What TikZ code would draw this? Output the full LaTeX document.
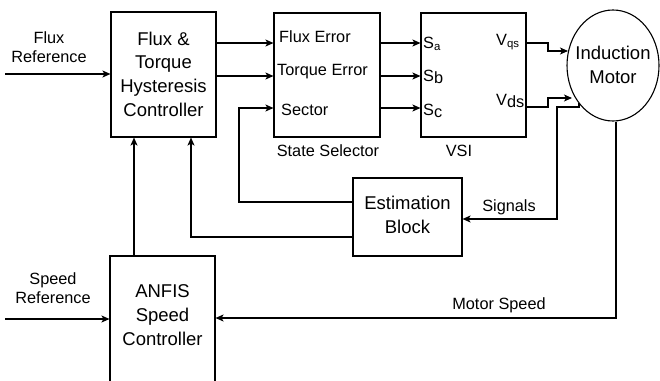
\documentclass[tikz,border=0pt]{standalone}
\usepackage{fontspec}
\setmainfont{Liberation Sans}
\usetikzlibrary{arrows.meta,shapes.geometric}
\tikzset{
  blk/.style={draw, line width=1.1pt, inner sep=0pt, minimum width=#1},
  ln/.style={line width=1.1pt},
  arr/.style={ln, -{Stealth[length=8pt,width=7pt,inset=2pt]}},
  bigtxt/.style={font=\fontsize{18.5}{23.7}\selectfont, align=center, inner sep=0pt},
  lbl/.style={font=\fontsize{16.3}{19.5}\selectfont, align=center, inner sep=0pt},
}
\begin{document}
\begin{tikzpicture}[x=1pt,y=-1pt]
\useasboundingbox (0,0) rectangle (660,380);
\clip (0,0) rectangle (660,380);
\fill[white] (0,0) rectangle (660,380);

% blocks
\node[blk=105pt, minimum height=125pt] (ftc) at (163.5,74.5) {};
\node[bigtxt] (ftct) at (163.5,74) {Flux \&\\Torque\\Hysteresis\\Controller};
\node[blk=106pt, minimum height=124pt] (ss) at (327,75) {};
\node[blk=105pt, minimum height=124pt] (vsi) at (473.5,75) {};
\node[draw, line width=1.1pt, ellipse, inner sep=0pt, minimum width=92pt, minimum height=111pt] (im) at (613,65.5) {};
\node[bigtxt] (imt) at (613,65) {Induction\\Motor};
\node[blk=109pt, minimum height=78pt] (est) at (407.5,217) {};
\node[bigtxt] (estt) at (407.5,215) {Estimation\\Block};
\node[blk=105pt, minimum height=130pt] (anf) at (162.5,321) {};
\node[bigtxt] (anft) at (162.5,315) {ANFIS\\Speed\\Controller};

% labels
\node[lbl] (fref) at (49,47) {Flux\\Reference};
\node[lbl] (sref) at (53,288) {Speed\\Reference};
\node[lbl, anchor=west] (fe) at (279,37) {Flux Error};
\node[lbl, anchor=west] (te) at (277,72) {Torque Error};
\node[lbl, anchor=west] (sec) at (281,110) {Sector};
\node[lbl] (ssl) at (328,151) {State Selector};
\node[lbl] (vsil) at (459,151) {VSI};
\node[lbl, anchor=west] (sa) at (423,44) {S\textsubscript{a}};
\node[lbl, anchor=west] (sb) at (423,77) {S\raisebox{-1.5pt}{b}};
\node[lbl, anchor=west] (sc) at (423,111) {S\raisebox{-1.5pt}{c}};
\node[lbl, anchor=west] (vq) at (496,42) {V\textsubscript{qs}};
\node[lbl, anchor=west] (vd) at (496,101) {V\raisebox{-1.5pt}{ds}};
\node[lbl] (sig) at (509,207) {Signals};
\node[lbl] (ms) at (499,305) {Motor Speed};

% port coordinates
\coordinate (r1) at (0,43);
\coordinate (r2) at (0,76);
\coordinate (r3) at (0,108);
\coordinate (fin) at (5,74);
\coordinate (sin) at (5,319);
\coordinate (q1) at (548,43);
\coordinate (q2) at (548,51);
\coordinate (qt) at (568,51);
\coordinate (d1) at (548,107);
\coordinate (d2) at (548,98);
\coordinate (dt) at (572,98);
\coordinate (mo) at (579,103);
\coordinate (m1) at (579,107);
\coordinate (m2) at (557,107);
\coordinate (m3) at (557,219);
\coordinate (sp1) at (616,318);
\coordinate (e1) at (239,202);
\coordinate (e2) at (191,237);
\coordinate (ax) at (134,0);

% connectors
\draw[arr] (fin) -- (ftc.west |- fin);
\draw[arr] (sin) -- (anf.west |- sin);
\draw[arr] (ftc.east |- r1) -- (ss.west |- r1);
\draw[arr] (ftc.east |- r2) -- (ss.west |- r2);
\draw[arr] (ss.east |- r1) -- (vsi.west |- r1);
\draw[arr] (ss.east |- r2) -- (vsi.west |- r2);
\draw[arr] (ss.east |- r3) -- (vsi.west |- r3);
\draw[arr] (vsi.east |- q1) -- (q1) -- (q2) -- (qt);
\draw[arr] (vsi.east |- d1) -- (d1) -- (d2) -- (dt);
\draw[arr] (mo) -- (m1) -- (m2) -- (m3) -- (est.east |- m3);
\draw[arr] (im.south -| sp1) -- (sp1) -- (anf.east |- sp1);
\draw[arr] (est.west |- e1) -- (e1) -- (e1 |- r3) -- (ss.west |- r3);
\draw[arr] (est.west |- e2) -- (e2) -- (e2 |- ftc.south);
\draw[arr] (anf.north -| ax) -- (ftc.south -| ax);
\end{tikzpicture}
\end{document}
